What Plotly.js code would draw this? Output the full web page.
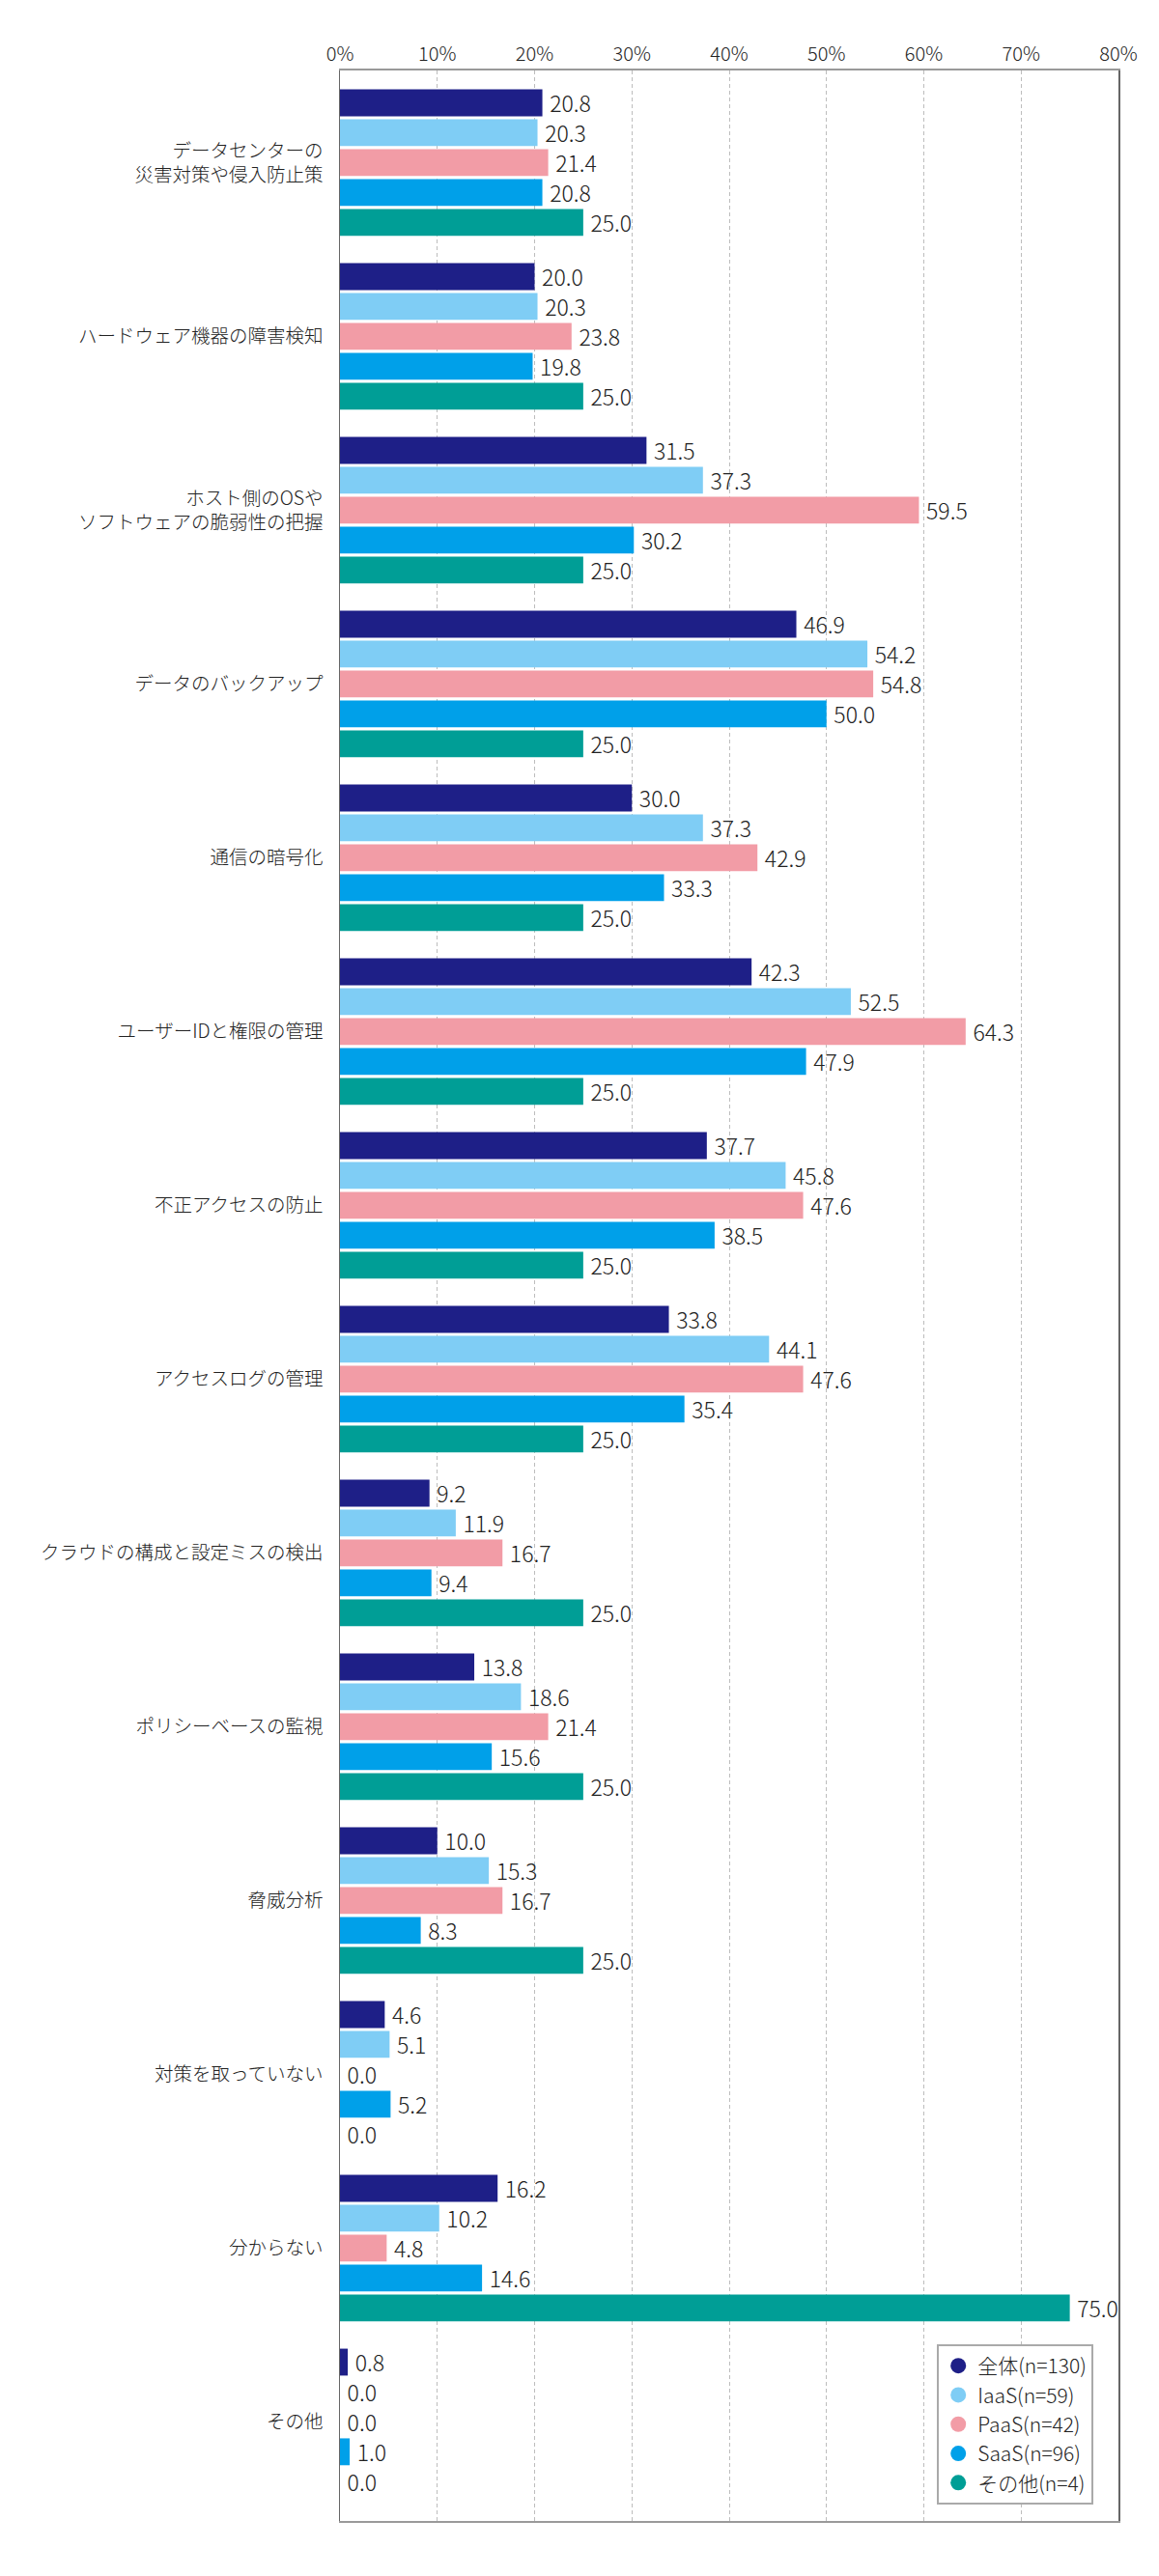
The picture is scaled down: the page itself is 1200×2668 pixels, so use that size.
<!DOCTYPE html>
<html>
<head>
<meta charset="utf-8">
<script src="https://cdn.plot.ly/plotly-3.0.1.min.js"></script>
<style>
  body { margin: 0; background: #fff; }
  #chart { width: 1200px; height: 2668px; }
</style>
</head>
<body>
<div id="chart"></div>
<script>
// 項目（上から順）
const categories = [
    'データセンターの<br>災害対策や侵入防止策',
    'ハードウェア機器の障害検知',
    'ホスト側のOSや<br>ソフトウェアの脆弱性の把握',
    'データのバックアップ',
    '通信の暗号化',
    'ユーザーIDと権限の管理',
    '不正アクセスの防止',
    'アクセスログの管理',
    'クラウドの構成と設定ミスの検出',
    'ポリシーベースの監視',
    '脅威分析',
    '対策を取っていない',
    '分からない',
    'その他'
];

const seriesNames = ['全体(n=130)', 'IaaS(n=59)', 'PaaS(n=42)', 'SaaS(n=96)', 'その他(n=4)'];
const seriesColors = ['#1e1f87', '#7fcdf5', '#f29ca6', '#00a0e9', '#009e96'];

const zentai = [20.8, 20.0, 31.5, 46.9, 30.0, 42.3, 37.7, 33.8, 9.2, 13.8, 10.0, 4.6, 16.2, 0.8];
const iaas   = [20.3, 20.3, 37.3, 54.2, 37.3, 52.5, 45.8, 44.1, 11.9, 18.6, 15.3, 5.1, 10.2, 0.0];
const paas   = [21.4, 23.8, 59.5, 54.8, 42.9, 64.3, 47.6, 47.6, 16.7, 21.4, 16.7, 0.0, 4.8, 0.0];
const saas   = [20.8, 19.8, 30.2, 50.0, 33.3, 47.9, 38.5, 35.4, 9.4, 15.6, 8.3, 5.2, 14.6, 1.0];
const sonota = [25.0, 25.0, 25.0, 25.0, 25.0, 25.0, 25.0, 25.0, 25.0, 25.0, 25.0, 0.0, 75.0, 0.0];

const xTicks = [0, 10, 20, 30, 40, 50, 60, 70, 80];

const allSeries = [zentai, iaas, paas, saas, sonota];
const FONT = '"Noto Sans CJK JP", "Noto Sans", sans-serif';

const data = [];
allSeries.forEach((vals, i) => {
    data.push({
        type: 'bar',
        orientation: 'h',
        name: seriesNames[i],
        x: vals,
        y: categories,
        marker: { color: seriesColors[i] },
        text: vals.map(v => '\u2009' + v.toFixed(1)),
        textposition: 'outside',
        constraintext: 'none',
        cliponaxis: false,
        textfont: { family: FONT, size: 23, color: '#222', weight: 300 },
        showlegend: false,
        hoverinfo: 'skip'
    });
});

// 凡例用（丸いマーカー）
seriesNames.forEach((name, i) => {
    data.push({
        type: 'scatter',
        mode: 'markers',
        name: name,
        x: [null],
        y: [null],
        marker: { color: seriesColors[i], size: 16, symbol: 'circle' },
        showlegend: true,
        hoverinfo: 'skip'
    });
});

const layout = {
    width: 1200,
    height: 2668,
    margin: { t: 73, b: 57, l: 352, r: 42 },
    paper_bgcolor: '#fff',
    plot_bgcolor: '#fff',
    font: { family: FONT, color: '#222', weight: 300 },
    barmode: 'group',
    bargap: 0.14,
    bargroupgap: 0.1,
    showlegend: true,
    xaxis: {
        side: 'top',
        range: [0, 80],
        tickvals: xTicks,
        ticktext: xTicks.map(t => t + '%'),
        tickfont: { family: FONT, size: 20, color: '#222', weight: 300 },
        showgrid: true,
        gridcolor: '#bdbdbd',
        griddash: '4px,3px',
        gridwidth: 1,
        zeroline: false,
        showline: true,
        mirror: true,
        linecolor: '#999',
        linewidth: 2,
        ticks: '',
        fixedrange: true
    },
    yaxis: {
        type: 'category',
        range: [13.57, -0.53],
        tickfont: { family: FONT, size: 19.5, color: '#222', weight: 300 },
        ticks: '',
        ticklabelstandoff: 12,
        showgrid: false,
        zeroline: false,
        showline: true,
        mirror: true,
        linecolor: '#666',
        linewidth: 1.5,
        fixedrange: true
    },
    legend: {
        x: 0.767,
        y: 0.0067,
        xanchor: 'left',
        yanchor: 'bottom',
        bgcolor: '#fff',
        bordercolor: '#aaa',
        borderwidth: 2,
        font: { family: FONT, size: 21, color: '#222', weight: 300 },
        itemsizing: 'trace',
        tracegroupgap: 0
    }
};

Plotly.newPlot('chart', data, layout, { displayModeBar: false, staticPlot: true });
</script>
</body>
</html>
